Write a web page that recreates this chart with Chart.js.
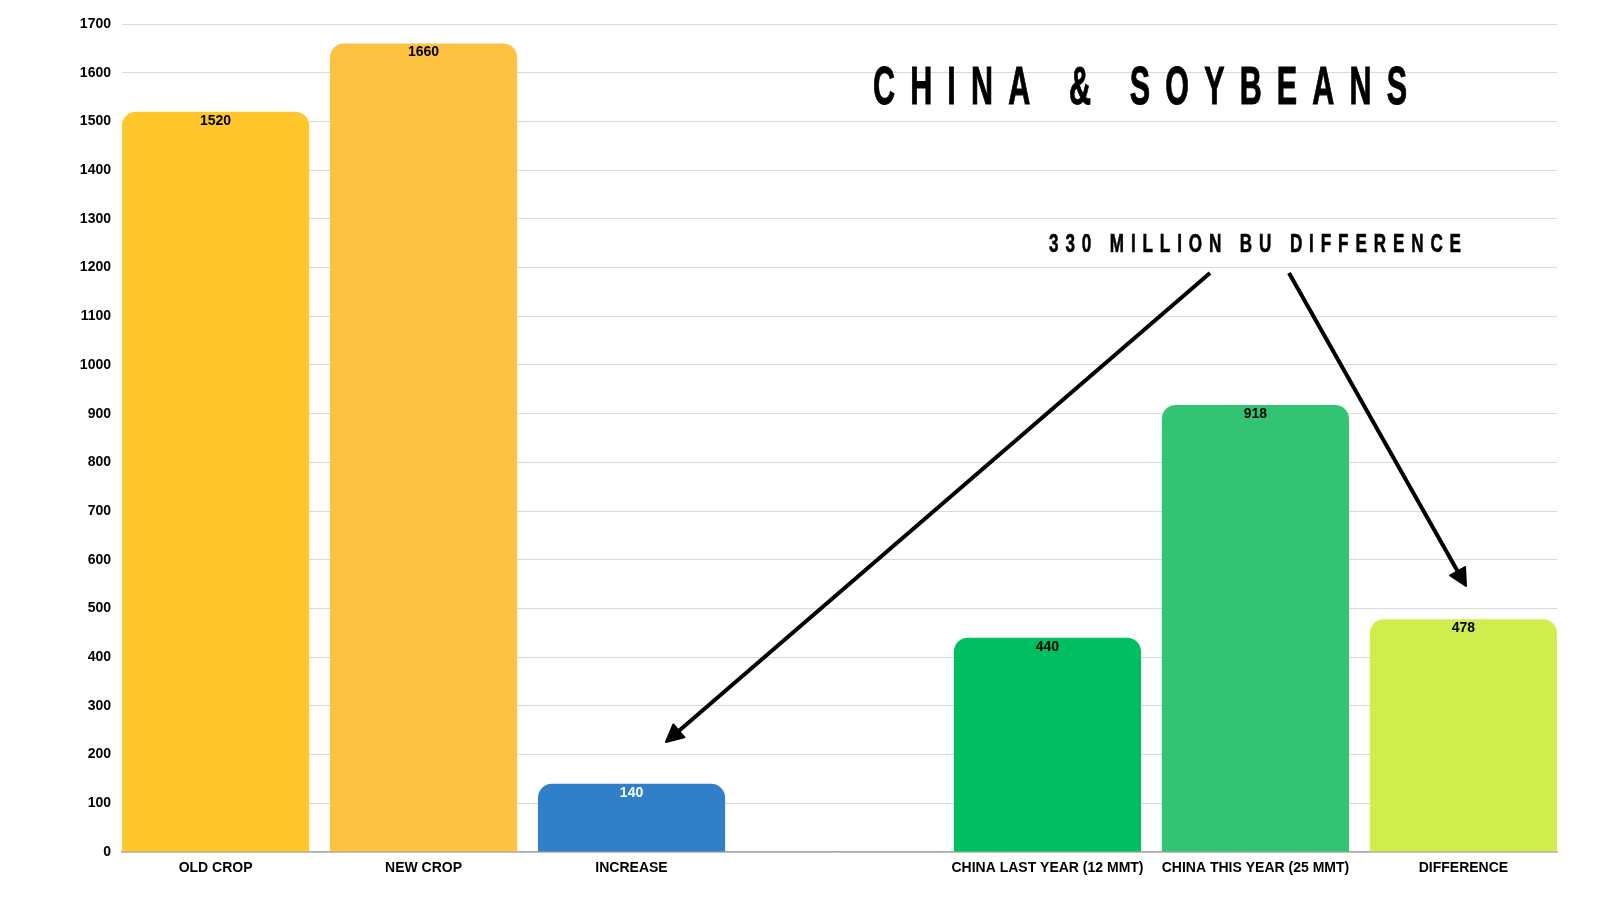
<!DOCTYPE html>
<html>
<head>
<meta charset="utf-8">
<script src="https://cdn.jsdelivr.net/npm/chart.js@4.4.0/dist/chart.umd.min.js"></script>
<style>
  html, body { margin: 0; padding: 0; background: #ffffff; }
  #wrap { width: 1600px; height: 900px; position: relative; }
</style>
</head>
<body>
<div id="wrap"><canvas id="c" width="1600" height="900"></canvas></div>
<script>
// ---- data ----
const categories = ['OLD CROP', 'NEW CROP', 'INCREASE', '', 'CHINA LAST YEAR (12 MMT)', 'CHINA THIS YEAR (25 MMT)', 'DIFFERENCE'];
const values = [1520, 1660, 140, null, 440, 918, 478];
const barColors = ['#FFC72C', '#FEC243', '#2F80C8', null, '#00BF63', '#32C373', '#CFEE4E'];
const valueLabelColors = ['#000000', '#000000', '#FFFFFF', null, '#000000', '#000000', '#000000'];
const yMin = 0;
const yMax = 1700;
const yStep = 100;
const titleText = 'CHINA & SOYBEANS';
const noteText = '330 MILLION BU DIFFERENCE';

// ---- build library structures ----
const present = values.map((v, i) => i).filter(i => values[i] !== null);
const points = present.map(i => ({ x: i, y: values[i] }));
const pointColors = present.map(i => barColors[i]);
const pointLabelColors = present.map(i => valueLabelColors[i]);

const tickFont = { family: '"Liberation Sans", Arial, sans-serif', size: 14, weight: 'bold' };

function drawSpaced(ctx, text, x0, x1, baseline, capHeight, targetGlyph, targetGlyphWidth, strokeW) {
  const fam = '"Liberation Sans Narrow", "Liberation Sans", Arial, sans-serif';
  const size = capHeight / 0.716;
  ctx.save();
  ctx.font = 'bold ' + size + 'px ' + fam;
  ctx.fillStyle = '#000000';
  ctx.strokeStyle = '#000000';
  ctx.textAlign = 'left';
  ctx.textBaseline = 'alphabetic';
  const hasLS = ('letterSpacing' in ctx);
  if (hasLS) ctx.letterSpacing = '0px';
  const gw = ctx.measureText(targetGlyph).width;
  const sx = targetGlyphWidth / gw;
  const w0 = ctx.measureText(text).width;
  const n = text.length;
  const L = ((x1 - x0) / sx - w0) / (n - 1);
  ctx.translate(x0, baseline);
  ctx.scale(sx, 1);
  ctx.lineWidth = strokeW / sx;
  if (hasLS) {
    ctx.letterSpacing = L + 'px';
    ctx.fillText(text, 0, 0);
    if (strokeW > 0) ctx.strokeText(text, 0, 0);
  } else {
    let x = 0;
    for (const ch of text) {
      ctx.fillText(ch, x, 0);
      if (strokeW > 0) ctx.strokeText(ch, x, 0);
      x += ctx.measureText(ch).width + L;
    }
  }
  ctx.restore();
}

function drawArrow(ctx, x1, y1, x2, y2) {
  const ang = Math.atan2(y2 - y1, x2 - x1);
  const headLen = 17, headHalf = 8.5;
  const bx = x2 - headLen * Math.cos(ang);
  const by = y2 - headLen * Math.sin(ang);
  ctx.save();
  ctx.strokeStyle = '#000000';
  ctx.fillStyle = '#000000';
  ctx.lineWidth = 4;
  ctx.lineCap = 'butt';
  ctx.lineJoin = 'round';
  ctx.beginPath();
  ctx.moveTo(x1, y1);
  ctx.lineTo(bx + 4 * Math.cos(ang), by + 4 * Math.sin(ang));
  ctx.stroke();
  ctx.beginPath();
  ctx.moveTo(x2, y2);
  ctx.lineTo(bx + headHalf * Math.sin(ang), by - headHalf * Math.cos(ang));
  ctx.lineTo(bx - headHalf * Math.sin(ang), by + headHalf * Math.cos(ang));
  ctx.closePath();
  ctx.lineWidth = 2;
  ctx.fill();
  ctx.stroke();
  ctx.restore();
}

const valueLabelPlugin = {
  id: 'valueLabels',
  afterDatasetsDraw(chart) {
    const ctx = chart.ctx;
    const meta = chart.getDatasetMeta(0);
    ctx.save();
    ctx.font = 'bold 14px "Liberation Sans", Arial, sans-serif';
    ctx.textAlign = 'center';
    ctx.textBaseline = 'middle';
    meta.data.forEach((el, k) => {
      ctx.fillStyle = pointLabelColors[k];
      ctx.fillText(String(points[k].y), el.x, el.y + 9);
    });
    ctx.restore();
  }
};

const annotationPlugin = {
  id: 'annotations',
  afterDraw(chart) {
    const ctx = chart.ctx;
    drawSpaced(ctx, titleText, 873, 1407, 104, 39, 'H', 22, 0.6);
    drawSpaced(ctx, noteText, 1049, 1461, 252, 19, '0', 9.5, 0.4);
    drawArrow(ctx, 1210, 273, 666, 742);
    drawArrow(ctx, 1289, 273, 1466, 586);
  }
};

new Chart(document.getElementById('c'), {
  type: 'bar',
  data: {
    datasets: [{
      data: points,
      backgroundColor: pointColors,
      borderWidth: 0,
      borderRadius: { topLeft: 14, topRight: 14, bottomLeft: 0, bottomRight: 0 },
      borderSkipped: 'start',
      barPercentage: 1.0,
      categoryPercentage: 0.9
    }]
  },
  options: {
    responsive: false,
    animation: false,
    devicePixelRatio: 1,
    layout: { padding: { left: 0, right: 43, top: 24, bottom: 0 } },
    plugins: {
      legend: { display: false },
      tooltip: { enabled: false },
      title: { display: false }
    },
    scales: {
      x: {
        type: 'linear',
        min: -0.45,
        max: 6.45,
        offset: false,
        afterBuildTicks(axis) {
          axis.ticks = categories.map((c, i) => ({ value: i }));
        },
        afterFit(axis) { axis.height = 48; },
        grid: { display: false, drawTicks: false },
        border: { display: true, color: '#a6a6a6', width: 1.5 },
        ticks: {
          autoSkip: false,
          maxRotation: 0,
          minRotation: 0,
          padding: 8,
          color: '#000000',
          font: tickFont,
          callback: (v) => categories[v] !== undefined ? categories[v] : ''
        }
      },
      y: {
        min: yMin,
        max: yMax,
        afterFit(axis) { axis.width = 122; },
        grid: { color: '#d9d9d9', lineWidth: 1, drawTicks: false },
        border: { display: false },
        ticks: {
          stepSize: yStep,
          padding: 11,
          color: '#000000',
          font: tickFont,
          callback: (v) => String(v)
        }
      }
    }
  },
  plugins: [valueLabelPlugin, annotationPlugin]
});
</script>
</body>
</html>
